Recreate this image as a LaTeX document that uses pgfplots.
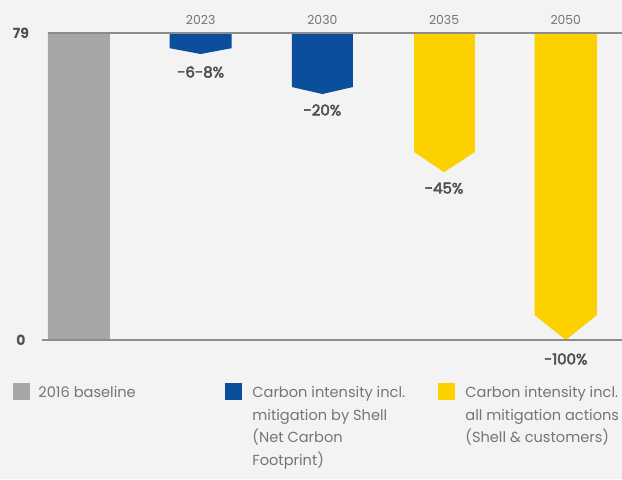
\documentclass[border=0pt]{standalone}
\usepackage{pgfplots}
\pgfplotsset{compat=1.18}
\usepackage{fontspec}
\setmainfont{Poppins}
\newfontfamily\medfont{Poppins}[FakeBold=3]
\definecolor{bg}{HTML}{F3F3F3}
\definecolor{shellblue}{HTML}{0B4F9C}
\definecolor{shellyellow}{HTML}{FDD000}
\definecolor{basegray}{HTML}{A6A6A6}
\definecolor{txt}{HTML}{757575}
\definecolor{dark}{HTML}{4F4F4F}
\definecolor{linegray}{HTML}{8C8C8C}
\def\px{0.5pt}
\begin{document}
\begin{tikzpicture}
\path[use as bounding box, fill=bg] (0,0) rectangle ({622*\px},{-479*\px});
\begin{axis}[
  at={({40*\px},{-340*\px})}, anchor=south west,
  scale only axis, width={582*\px}, height={307*\px},
  xmin=-0.32, xmax=4.462, ymin=0, ymax=79,
  clip=false,
  axis line style={draw=none}, major tick length=0pt,
  xtick={1,2,3,4}, xticklabels={2023,2030,2035,2050},
  xticklabel pos=upper,
  xticklabel style={font=\fontsize{6.2}{7}\selectfont, text=txt, anchor=center, yshift={13*\px}},
  ytick={0,79},
  yticklabel style={font=\fontsize{7}{8}\selectfont\bfseries, text=dark, anchor=center, xshift={-19*\px}},
  /pgf/number format/assume math mode=true,
]
% 2016 baseline
\addplot[fill=basegray, draw=none] coordinates {(-0.255,0) (0.255,0) (0.255,79) (-0.255,79) (-0.255,0)};
% 2023
\addplot[fill=shellblue, draw=none] coordinates {(0.745,79) (1.255,79) (1.255,75.1) (1.0,73.6) (0.745,75.1) (0.745,79)};
% 2030
\addplot[fill=shellblue, draw=none] coordinates {(1.750,79) (2.251,79) (2.251,65.1) (2.0,63.3) (1.750,65.1) (1.750,79)};
% 2035
\addplot[fill=shellyellow, draw=none] coordinates {(2.753,79) (3.254,79) (3.254,48.4) (3.0,43.2) (2.753,48.4) (2.753,79)};
% 2050
\addplot[fill=shellyellow, draw=none] coordinates {(3.745,79) (4.255,79) (4.255,6.4) (4.0,0) (3.745,6.4) (3.745,79)};
\draw[linegray, line width={1.5*\px}] (axis cs:-0.255,79) -- (axis cs:4.462,79);
\draw[linegray, line width={1.5*\px}] (axis cs:-0.30,0) -- (axis cs:4.462,0);
\begin{scope}[every node/.style={font=\fontsize{7.5}{8}\selectfont\medfont, text=dark, anchor=center}]
\node at (axis cs:1,73.6) [yshift={-18*\px}] {-6-8\%};
\node at (axis cs:2,63.3) [yshift={-16*\px}] {-20\%};
\node at (axis cs:3,43.2) [yshift={-16*\px}] {-45\%};
\node at (axis cs:4,0) [yshift={-19*\px}] {-100\%};
\end{scope}
\end{axis}
% legend
\fill[basegray] ({13*\px},{-383*\px}) rectangle ({30*\px},{-400*\px});
\fill[shellblue] ({225*\px},{-383*\px}) rectangle ({242*\px},{-400*\px});
\fill[shellyellow] ({438*\px},{-383*\px}) rectangle ({455*\px},{-400*\px});
\begin{scope}[every node/.style={font=\fontsize{7.3}{11.25}\selectfont, text=txt, anchor=north west, inner sep=0pt, align=left}]
\node at ({38*\px},{-386*\px}) {2016 baseline};
\node at ({252*\px},{-386*\px}) {Carbon intensity incl.\\mitigation by Shell\\(Net Carbon\\Footprint)};
\node at ({465*\px},{-386*\px}) {Carbon intensity incl.\\all mitigation actions\\(Shell \& customers)};
\end{scope}
\end{tikzpicture}
\end{document}
